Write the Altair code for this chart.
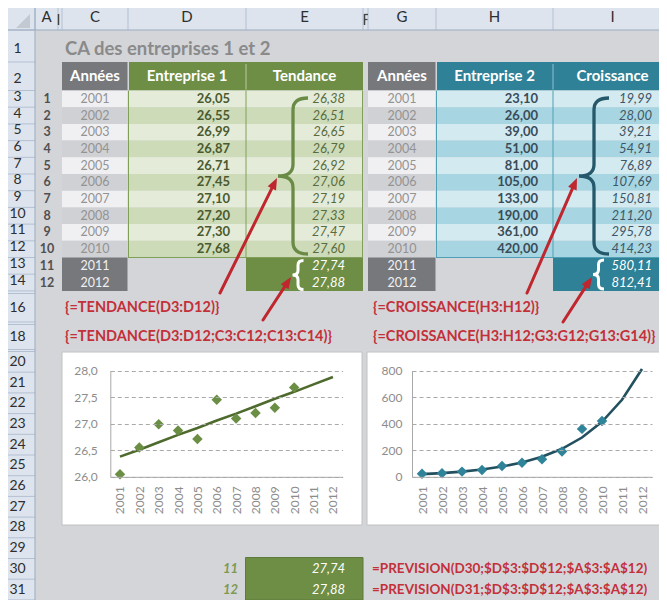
import math
import altair as alt
import pandas as pd

# ---------------- data ----------------
YEARS = ["2001", "2002", "2003", "2004", "2005", "2006", "2007", "2008", "2009", "2010", "2011", "2012"]
ENT1 = [26.05, 26.55, 26.99, 26.87, 26.71, 27.45, 27.10, 27.20, 27.30, 27.68]
TEND = [26.38, 26.51, 26.65, 26.79, 26.92, 27.06, 27.19, 27.33, 27.47, 27.60, 27.74, 27.88]
ENT2 = [23.10, 26.00, 39.00, 51.00, 81.00, 105.00, 133.00, 190.00, 361.00, 420.00]
CROIS = [19.99, 28.00, 39.21, 54.91, 76.89, 107.69, 150.81, 211.20, 295.78, 414.23, 580.11, 812.41]
TITLE = "CA des entreprises 1 et 2"
HEAD1 = ["Années", "Entreprise 1", "Tendance"]
HEAD2 = ["Années", "Entreprise 2", "Croissance"]
FORMULAS1 = ["{=TENDANCE(D3:D12)}", "{=TENDANCE(D3:D12;C3:C12;C13:C14)}"]
FORMULAS2 = ["{=CROISSANCE(H3:H12)}", "{=CROISSANCE(H3:H12;G3:G12;G13:G14)}"]
PREV_IDX = ["11", "12"]
PREV_VAL = [27.74, 27.88]
PREV_FORMULAS = ["=PREVISION(D30;$D$3:$D$12;$A$3:$A$12)", "=PREVISION(D31;$D$3:$D$12;$A$3:$A$12)"]
COL_LETTERS = ["A", "C", "D", "E", "G", "H", "I"]
Y1_TICKS = [26.0, 26.5, 27.0, 27.5, 28.0]
Y2_TICKS = [0, 200, 400, 600, 800]

# ---------------- layout (sheet grid, in reference pixels) ----------------
OFF = 8            # page margin: chart pixel + 8 = reference pixel
W, H = 651, 592
FONT = "Lato"
COL = {"hdr": (0, 35), "A": (35, 58), "B": (58, 62), "C": (62, 128), "D": (128, 246),
       "E": (246, 363), "F": (363, 368), "G": (368, 436), "H": (436, 553), "I": (553, 672)}


def build_rows():
    e = {0: (4, 30), 1: (30, 62), 2: (62, 90.5)}
    for k in range(12):
        e[3 + k] = (90.5 + 16.7 * k, 90.5 + 16.7 * (k + 1))
    e[15] = (e[14][1], 293.5)
    e[16] = (293.5, 322)
    e[17] = (322, 324.5)
    e[18] = (324.5, 349.5)
    e[19] = (349.5, 351.5)
    for k in range(13):
        e[20 + k] = (351.5 + 20.7 * k, 351.5 + 20.7 * (k + 1))
    return e


ROW = build_rows()
HIDDEN = {15, 17, 19}
LAST_ROW = 31


def rc(r):
    return (ROW[r][0] + ROW[r][1]) / 2


def cc(c):
    return (COL[c][0] + COL[c][1]) / 2


SHEET_BG = "#d4d5d9"
HDR_BG = "#dde4ee"
HDR_SEP = "#b3c0d2"
HDR_EDGE = "#9dacc1"
HDR_TXT = "#2e2e2e"
GRAY_HDR = "#77787c"
YEAR_L, YEAR_D = "#f0f0f2", "#d0d1d5"
YEAR_TXT = "#939393"
RED = "#c3303a"
ARROW_RED = "#bf262d"
GREEN = dict(head="#6e8e46", light="#e4ecd9", dark="#cddbb8", line="#80a05a",
             val="#4b5a2e", fit="#5a6b3e", brace="#6a8b46", sep="#b9cba0")
TEAL = dict(head="#2e8196", light="#d3eaf1", dark="#a7d6e2", line="#4f9fb5",
            val="#3a4c58", fit="#3e5666", brace="#24586a", sep="#8cc3d2")

rects, rules, texts, arrow_rules = [], [], [], []


def add_rect(x, x2, y, y2, fill, stroke=None, sw=0.0):
    rects.append(dict(x=x, x2=x2, y=y, y2=y2, fill=fill, stroke=stroke or fill, sw=sw))


def add_rule(x, y, x2, y2, color, sw=1.0, target=None):
    (rules if target is None else target).append(dict(x=x, y=y, x2=x2, y2=y2, color=color, sw=sw))


def add_text(x, y, s, color, size, align="left", weight="normal", style="normal"):
    texts.append(dict(x=x, y=y, text=s, color=color, size=size, align=align, weight=weight, style=style))


def fmt(v):
    return f"{v:.2f}".replace(".", ",")


# ---- frame: column and row headers ----
add_rect(0, 700, ROW[0][0], ROW[0][1], HDR_BG)
add_rect(0, COL["hdr"][1], ROW[1][0], 700, HDR_BG)
for name in ["A", "B", "C", "D", "E", "F", "G", "H", "I"]:
    add_rule(COL[name][0], ROW[0][0], COL[name][0], ROW[0][1], HDR_SEP)
for r in range(1, 33):
    add_rule(0, ROW[r][0], COL["hdr"][1], ROW[r][0], HDR_SEP)
add_rule(0, ROW[0][1], 700, ROW[0][1], HDR_EDGE)
add_rule(COL["hdr"][1], ROW[0][0], COL["hdr"][1], 700, HDR_EDGE)
# cut-off letters of the narrow hidden columns B and F
add_rule(58.5, 14, 58.5, 25, "#444444", 1.5)
add_rule(364.5, 14, 364.5, 25, "#444444", 1.5)
add_rule(364.5, 14.5, 368, 14.5, "#444444", 1.3)
add_rule(364.5, 19.5, 367.5, 19.5, "#444444", 1.2)
for name in COL_LETTERS:
    add_text(cc(name), rc(0), name, HDR_TXT, 15, "center")
for r in range(1, LAST_ROW + 1):
    if r in HIDDEN:
        continue
    dy = 3 if r in (1, 2) else (-2 if 3 <= r <= 14 else 0)
    add_text(cc("hdr"), rc(r) + dy, str(r), HDR_TXT, 14, "center")
for i in range(12):
    add_text(47, rc(3 + i), str(i + 1), "#505050", 12.5, "center", "bold")

add_text(65, 49, TITLE, "#8a8a8a", 18.5, "left", "bold")


# ---- the two tables ----
def table(cy, cv, cf, head, vals, fits, th):
    y_l, y_r = COL[cy][0], COL[cy][1] - 0.5
    v_l, f_l, f_r = COL[cv][0], COL[cf][0], COL[cf][1]
    add_rect(y_l, y_r, ROW[2][0], ROW[2][1], GRAY_HDR)
    add_rect(v_l + 1, f_r, ROW[2][0], ROW[2][1], th["head"])
    add_rule(f_l, ROW[2][0] + 2, f_l, ROW[2][1] - 1, th["sep"])
    for c, s in zip([cy, cv, cf], head):
        add_text(cc(c), rc(2), s, "white", 15, "center", "bold")
    for i in range(10):
        r = 3 + i
        light = i % 2 == 0
        add_rect(y_l, y_r, ROW[r][0], ROW[r][1], YEAR_L if light else YEAR_D)
        add_rect(v_l, f_r, ROW[r][0], ROW[r][1], th["light"] if light else th["dark"])
        add_text(cc(cy), rc(r), YEARS[i], YEAR_TXT, 12.5, "center")
        add_text(v_l + 102, rc(r), fmt(vals[i]), th["val"], 13, "right", "bold")
        add_text(f_l + 99, rc(r), fmt(fits[i]), th["fit"], 13, "right", "normal", "italic")
    top, bot = ROW[3][0], ROW[12][1]
    for x in (v_l + 0.5, f_l, f_r - 0.5):
        add_rule(x, top, x, bot, th["line"])
    add_rule(v_l, bot, f_r, bot, th["line"])
    add_rect(y_l, y_r, ROW[13][0], ROW[14][1], GRAY_HDR)
    add_rect(f_l, f_r, ROW[13][0], ROW[14][1], th["head"])
    for i in (10, 11):
        r = 3 + i
        add_text(cc(cy), rc(r), YEARS[i], "#f0f0f0", 12.5, "center")
        add_text(f_l + 99, rc(r), fmt(fits[i]), "white", 13, "right", "normal", "italic")


table("C", "D", "E", HEAD1, ENT1, TEND, GREEN)
table("G", "H", "I", HEAD2, ENT2, CROIS, TEAL)

# formulas
for k, r in enumerate((16, 18)):
    add_text(65, rc(r), FORMULAS1[k], RED, 14.5, "left", "bold")
    add_text(373, rc(r), FORMULAS2[k], RED, 14.5, "left", "bold")

# chart frames
add_rect(62, 362, 352, 525, "white", "#c2c2c2", 1)
add_rect(367, 700, 352, 525, "white", "#c2c2c2", 1)

# PREVISION block
add_rect(245.5, 363, 557.5, 600, GREEN["head"], "#5d7b3a", 1)
for k, r in enumerate((30, 31)):
    add_text(238, rc(r), PREV_IDX[k], "#7d9a55", 13, "right", "bold", "italic")
    add_text(345, rc(r), fmt(PREV_VAL[k]), "white", 13, "right", "normal", "italic")
    add_text(372, rc(r), PREV_FORMULAS[k], RED, 13.5, "left", "bold")

# braces: stem x, tip y, symbol size (from the brace height), colour
BIG_BRACES = [dict(x=293, y=176, size=(2 * 78) ** 2, color=GREEN["brace"]),
              dict(x=594, y=176, size=(2 * 78) ** 2, color=TEAL["brace"])]
SMALL_BRACES = [dict(x=298, y=275, size=(2 * 14.5) ** 2, color="white"),
                dict(x=598.5, y=274.5, size=(2 * 14.5) ** 2, color="white")]


def brace_path(w, k):
    return (f"M {w} -1 Q 0 -1 0 {-1 + k} L 0 {-k} Q 0 0 {-w} 0 "
            f"Q 0 0 0 {k} L 0 {1 - k} Q 0 1 {w} 1")


# arrows (start -> tip)
ARROWS = [((220, 293), (277, 178)), ((263, 320), (291, 277)),
          ((527, 293), (577, 178)), ((563, 322), (592, 277))]
HEAD_UNIT = 5.8
heads = []
for (x0, y0), (x1, y1) in ARROWS:
    dx, dy = x1 - x0, y1 - y0
    L = math.hypot(dx, dy)
    ux, uy = dx / L, dy / L
    cx, cy = x1 - HEAD_UNIT * ux, y1 - HEAD_UNIT * uy
    add_rule(x0, y0, cx, cy, ARROW_RED, 3, target=arrow_rules)
    ang = math.degrees(math.atan2(dx, -dy)) % 360
    heads.append(dict(x=cx, y=cy, size=(2 * HEAD_UNIT) ** 2, color=ARROW_RED, angle=ang))

CORNER = [dict(x=23, y=21, size=196, color="#c3c9d0")]

# ---------------- sheet layers ----------------
SX = alt.Scale(domain=[OFF, OFF + W], range=[0, W], nice=False, zero=False)
SY = alt.Scale(domain=[OFF, OFF + H], range=[0, H], nice=False, zero=False)


def XY():
    return dict(x=alt.X("x:Q", scale=SX, axis=None), y=alt.Y("y:Q", scale=SY, axis=None))


rect_layer = alt.Chart(pd.DataFrame(rects)).mark_rect().encode(
    x2="x2:Q", y2="y2:Q",
    fill=alt.Fill("fill:N", scale=None), stroke=alt.Stroke("stroke:N", scale=None),
    strokeWidth=alt.StrokeWidth("sw:Q", scale=None), **XY())


def rule_layer(items, cap="butt"):
    return alt.Chart(pd.DataFrame(items)).mark_rule(strokeCap=cap).encode(
        x2="x2:Q", y2="y2:Q", color=alt.Color("color:N", scale=None),
        strokeWidth=alt.StrokeWidth("sw:Q", scale=None), **XY())


def sym_layer(items, shape, filled, sw=None):
    df = pd.DataFrame(items)
    kw = dict(shape=shape, filled=filled, opacity=1)
    if sw is not None:
        kw["strokeWidth"] = sw
    enc = dict(size=alt.Size("size:Q", scale=None), color=alt.Color("color:N", scale=None), **XY())
    if "angle" in df.columns:
        enc["angle"] = alt.Angle("angle:Q", scale=None)
    return alt.Chart(df).mark_point(**kw).encode(**enc)


tdf = pd.DataFrame(texts)
text_layers = []
for (align, weight, style, size), g in tdf.groupby(["align", "weight", "style", "size"], sort=False):
    text_layers.append(
        alt.Chart(g[["x", "y", "text", "color"]]).mark_text(
            align=align, baseline="middle", font=FONT, fontSize=float(size),
            fontWeight=weight, fontStyle=style).encode(
            text="text:N", color=alt.Color("color:N", scale=None), **XY()))

sheet = alt.layer(
    rect_layer,
    rule_layer(rules),
    sym_layer(CORNER, "M 1 -1 L 1 1 L -1 1 Z", True),
    sym_layer(BIG_BRACES, brace_path(15 / 78, 0.15), False, 3.3),
    sym_layer(SMALL_BRACES, brace_path(5.5 / 14.5, 0.33), False, 3),
    *text_layers,
    rule_layer(arrow_rules, "round"),
    sym_layer(heads, "M 0 -1 L 0.8 1 L -0.8 1 Z", True),
)

# ---------------- the two small charts ----------------
AX_TXT = "#8c8c8c"
AX_LINE = "#a8a8a8"


def mini_chart(pts, fit, plot, ydom, yticks, ylabel_expr, ylab_pad, line_color, pt_color):
    left, right, top, bottom = plot
    xs = alt.Scale(type="point", domain=YEARS, range=[left - OFF, right - OFF], padding=0.5)
    ys = alt.Scale(domain=ydom, range=[bottom - OFF, top - OFF], nice=False, zero=False)
    xax = alt.Axis(title=None, orient="bottom", labelAngle=270, labelColor=AX_TXT, labelFont=FONT,
                   labelFontSize=12, labelPadding=9, ticks=False, domainColor=AX_LINE, grid=False,
                   offset=(bottom - OFF) - H, zindex=2)
    yax = alt.Axis(title=None, orient="left", values=yticks, labelExpr=ylabel_expr, labelColor=AX_TXT,
                   labelFont=FONT, labelFontSize=12, labelPadding=ylab_pad, ticks=False,
                   domainColor=AX_LINE, grid=True, gridColor="#a9a9a9", gridDash=[4, 3],
                   offset=-(left - OFF), zindex=2)
    X = alt.X("year:O", scale=xs, axis=xax)
    Y = alt.Y("value:Q", scale=ys, axis=yax)
    fit_df = pd.DataFrame({"year": YEARS, "value": fit})
    pt_df = pd.DataFrame({"year": YEARS[:len(pts)], "value": pts})
    line = alt.Chart(fit_df).mark_line(color=line_color, strokeWidth=2.6).encode(x=X, y=Y)
    dots = alt.Chart(pt_df).mark_point(shape="diamond", filled=True, size=110, color=pt_color,
                                       opacity=1).encode(x=X, y=Y)
    return alt.layer(line, dots)


chart1 = mini_chart(ENT1, TEND, (110.3, 342.6, 370.6, 476.8), [26, 28], Y1_TICKS,
                    "replace(format(datum.value, '.1f'), '.', ',')", 13, "#4e6a2d", "#6b8e45")
chart2 = mini_chart(ENT2, CROIS, (412, 652, 370.6, 476.8), [0, 800], Y2_TICKS,
                    "format(datum.value, 'd')", 10, "#23505f", "#2f8499")

chart = alt.layer(sheet, chart1, chart2).resolve_scale(
    x="independent", y="independent"
).properties(
    width=W, height=H, padding=0, background=SHEET_BG,
    autosize=alt.AutoSizeParams(type="none"),
).configure_view(strokeWidth=0)

chart.save("out.html", embed_options={"renderer": "svg", "actions": False})
